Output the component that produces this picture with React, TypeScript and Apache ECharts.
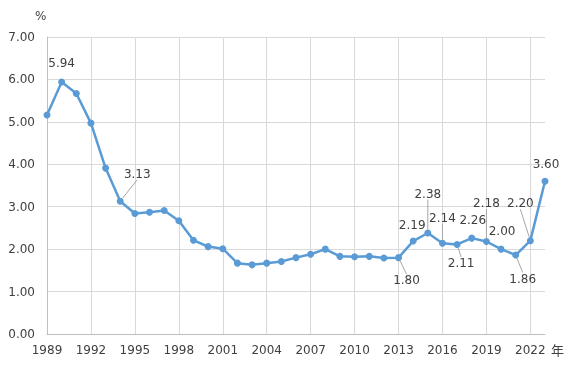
import React, { useEffect, useRef } from "react";
import * as echarts from "echarts";

const years: string[] = [];
for (let y = 1989; y <= 2023; y++) years.push(String(y));

const values = [
  5.16, 5.94, 5.67, 4.97, 3.91, 3.13, 2.84, 2.87, 2.91, 2.67,
  2.21, 2.06, 2.01, 1.67, 1.63, 1.67, 1.71, 1.8, 1.88, 2.0,
  1.83, 1.82, 1.83, 1.79, 1.8, 2.19, 2.38, 2.14, 2.11, 2.26,
  2.18, 2.0, 1.86, 2.2, 3.6,
];

// labelled years with placement: [year, position, dx, dy, guide line]
const labelSpecs: [string, string, number, number, boolean][] = [
  ["1990", "top", 0, -4, false],
  ["1994", "top", 17, -13, true],
  ["2013", "bottom", 8, 8, true],
  ["2014", "top", -1, -2, false],
  ["2015", "top", 0, -25, true],
  ["2016", "top", 0, -11, true],
  ["2017", "bottom", 4, 4, true],
  ["2018", "top", 1, -4, false],
  ["2019", "top", 0, -24, true],
  ["2020", "top", 1, -4, false],
  ["2021", "bottom", 7, 9, true],
  ["2022", "top", -10, -23, true],
  ["2023", "top", 1, -3, false],
];

const TXT = "#404040";
const FONT = "DejaVu Sans";

export default function App() {
  const ref = useRef<HTMLDivElement>(null);
  useEffect(() => {
    if (!ref.current) return;
    const chart = echarts.init(ref.current, undefined, { renderer: "svg" });
    const specMap: Record<string, [string, string, number, number, boolean]> = {};
    labelSpecs.forEach((s) => (specMap[s[0]] = s));
    const data = values.map((v, i) => {
      const s = specMap[years[i]];
      if (!s) return { value: v, label: { show: false } };
      return {
        value: v,
        label: { show: true, position: s[1] },
        labelLine: { show: s[4] },
      };
    });
    chart.setOption({
      animation: false,
      grid: { left: 47, right: 31, top: 37, bottom: 33 },
      xAxis: {
        type: "category",
        data: years,
        boundaryGap: false,
        axisLine: { lineStyle: { color: "#bfbfbf" } },
        axisTick: { show: false },
        axisLabel: {
          interval: 2,
          color: TXT,
          fontFamily: FONT,
          fontSize: 12,
          margin: 10,
        },
        splitLine: { show: true, interval: 2, lineStyle: { color: "#d9d9d9" } },
      },
      yAxis: {
        type: "value",
        min: 0,
        max: 7,
        interval: 1,
        axisLine: { show: true, lineStyle: { color: "#bfbfbf" } },
        axisTick: { show: false },
        axisLabel: {
          color: TXT,
          fontFamily: FONT,
          fontSize: 12,
          margin: 12,
          formatter: (v: number) => v.toFixed(2),
        },
        splitLine: { lineStyle: { color: "#d9d9d9" } },
      },
      graphic: [
        { type: "text", left: 35, top: 10, style: { text: "%", fill: TXT, font: `12px ${FONT}` } },
        { type: "text", left: 551, top: 343, style: { text: "年", fill: TXT, font: `13px "Noto Sans CJK SC"` } },
      ],
      series: [
        {
          type: "line",
          data,
          symbol: "circle",
          symbolSize: 7,
          itemStyle: { color: "#5b9bd5" },
          lineStyle: { color: "#5b9bd5", width: 2.5 },
          label: {
            color: TXT,
            fontFamily: FONT,
            fontSize: 12,
            formatter: (p: any) => Number(p.value).toFixed(2),
          },
          labelLine: { show: false, lineStyle: { color: "#a6a6a6", width: 1 } },
          labelLayout: (p: any) => {
            const s = specMap[years[p.dataIndex]];
            if (!s) return {};
            return { dx: s[2], dy: s[3] };
          },
        },
      ],
    });
    return () => chart.dispose();
  }, []);
  return (
    <div
      ref={ref}
      style={{ position: "fixed", left: 0, top: 0, width: 576, height: 367 }}
    />
  );
}
